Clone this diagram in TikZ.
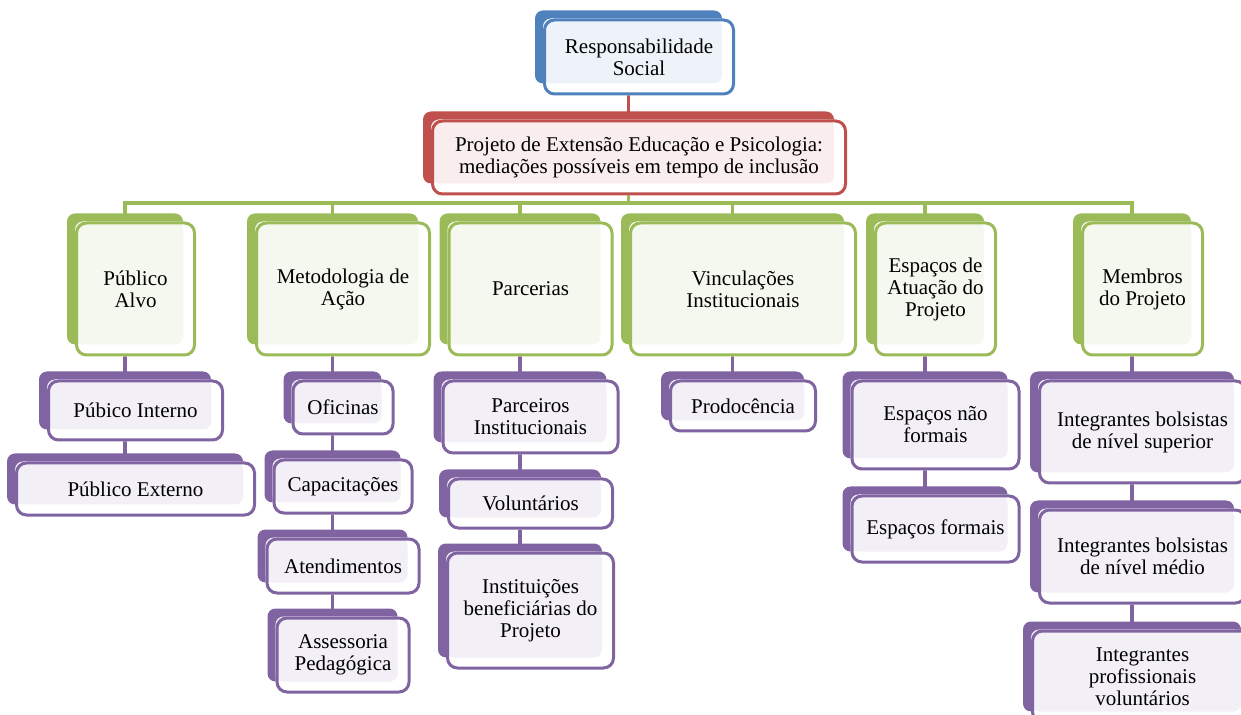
\documentclass[tikz,border=0pt]{standalone}
\usepackage{fontspec}
\setmainfont{Liberation Serif}
\usepackage{tikz}
\usetikzlibrary{calc}
\definecolor{sblue}{HTML}{4F81BD}
\definecolor{sred}{HTML}{C0504D}
\definecolor{sgreen}{HTML}{9BBB59}
\definecolor{spurple}{HTML}{8064A2}
\pgfdeclarelayer{lines}
\pgfdeclarelayer{background}
\pgfsetlayers{lines,background,main}
% #1 name, #2 column x, #3 top, #4 width, #5 bottom, #6 colour, #7 text
\newcommand{\dbox}[7]{%
  \node[box=#6, minimum width={#4*0.5pt}, minimum height={(#5-#3)*0.5pt}] (#1) at ({#2+10.5},{(#3+#5)/2}) {#7};
  \coordinate (#1-c) at ({#2},{(#3+#5)/2-10});
  \begin{pgfonlayer}{background}
    \fill[#6, rounded corners=4pt] ([shift={(-8,-8)}]#1.north west) rectangle ([shift={(-13,-12)}]#1.south east);
    \fill[white, rounded corners=5pt] (#1.north west) rectangle (#1.south east);
    \fill[#6!10, rounded corners=4pt] (#1.north west) rectangle ([shift={(-13,-12)}]#1.south east);
  \end{pgfonlayer}}

\begin{document}
\begin{tikzpicture}[x=0.5pt, y=-0.5pt,
  font=\fontsize{10.5}{11}\selectfont,
  box/.style={draw=#1, line width=1.5pt, rounded corners=5pt, align=center, inner sep=2pt},
  link/.style={draw=#1, line width=1.7pt}]
 \useasboundingbox (0,0) rectangle (1241,715);
 \clip (0,0) rectangle (1241,715);
 % top levels
 \dbox{rs}{628.5}{20}{189}{94}{sblue}{Responsabilidade\\Social}
 \dbox{pj}{628.5}{121}{413}{194}{sred}{Projeto de Extensão Educação e Psicologia:\\mediações possíveis em tempo de inclusão}
 % second level
 \dbox{pa}{125}{223}{118}{355}{sgreen}{Público\\Alvo}
 \dbox{ma}{332.5}{223}{173}{355}{sgreen}{Metodologia de\\Ação}
 \dbox{pc}{520}{223}{163}{355}{sgreen}{Parcerias}
 \dbox{vi}{732.5}{223}{225}{355}{sgreen}{Vinculações\\Institucionais}
 \dbox{ea}{925}{223}{120}{355}{sgreen}{Espaços de\\Atuação do\\Projeto}
 \dbox{mp}{1132}{223}{120}{355}{sgreen}{Membros\\do Projeto}
 % Publico Alvo
 \dbox{pi}{125}{381}{174}{440}{spurple}{Púbico Interno}
 \dbox{pe}{125}{463}{238}{515}{spurple}{Público Externo}
 % Metodologia
 \dbox{of}{332.5}{381}{100}{434}{spurple}{Oficinas}
 \dbox{ca}{332.5}{460}{138}{513}{spurple}{Capacitações}
 \dbox{at}{332.5}{539}{152}{593}{spurple}{Atendimentos}
 \dbox{as}{332.5}{618}{132}{692}{spurple}{Assessoria\\Pedagógica}
 % Parcerias
 \dbox{pin}{520}{381}{175}{453}{spurple}{Parceiros\\Institucionais}
 \dbox{vo}{520}{479}{164}{528}{spurple}{Voluntários}
 \dbox{ib}{520}{553}{166}{668}{spurple}{Instituições\\beneficiárias do\\Projeto}
 % Vinculacoes
 \dbox{pd}{732.5}{381}{145}{431}{spurple}{Prodocência}
 % Espacos
 \dbox{enf}{925}{381}{167}{469}{spurple}{Espaços não\\formais}
 \dbox{ef}{925}{496}{167}{562}{spurple}{Espaços formais}
 % Membros
 \dbox{is}{1132}{381}{206}{483}{spurple}{Integrantes bolsistas\\de nível superior}
 \dbox{im}{1132}{510}{206}{603}{spurple}{Integrantes bolsistas\\de nível médio}
 \dbox{ip}{1132}{631}{220}{722}{spurple}{Integrantes\\profissionais\\voluntários}
 % connectors
 \coordinate (bus) at (0,203);
 \begin{pgfonlayer}{lines}
  \draw[link=sred] (rs-c) -- (pj-c);
  \foreach \g in {pa,ma,pc,vi,ea,mp}
   \draw[link=sgreen] (pj-c) |- (bus -| \g-c) -- (\g-c);
  \draw[link=spurple] (pa-c) -- (pi-c) -- (pe-c);
  \draw[link=spurple] (ma-c) -- (of-c) -- (ca-c) -- (at-c) -- (as-c);
  \draw[link=spurple] (pc-c) -- (pin-c) -- (vo-c) -- (ib-c);
  \draw[link=spurple] (vi-c) -- (pd-c);
  \draw[link=spurple] (ea-c) -- (enf-c) -- (ef-c);
  \draw[link=spurple] (mp-c) -- (is-c) -- (im-c) -- (ip-c);
 \end{pgfonlayer}
\end{tikzpicture}
\end{document}
